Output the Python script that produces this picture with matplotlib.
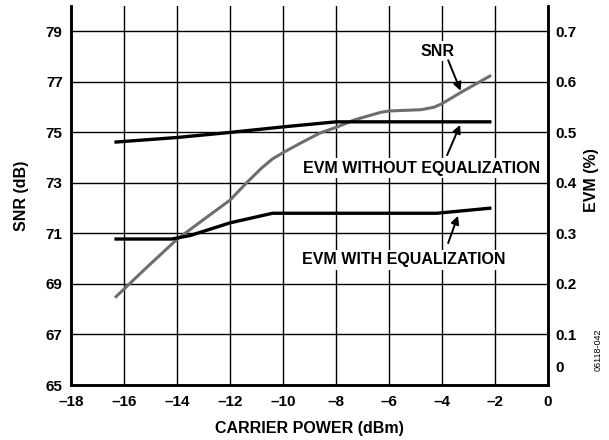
import matplotlib.pyplot as plt
import numpy as np

plt.rcParams['font.family'] = ['Liberation Sans', 'DejaVu Sans']

# -----------------------------
# Data
# -----------------------------
snr_x = [-16.3, -15.2, -14.0, -13.0, -12.0, -11.4, -10.8, -10.4, -10.0, -9.3,
         -8.6, -8.0, -7.3, -6.3, -6.0, -4.8, -4.3, -4.0, -3.3, -2.2]
snr_db = [68.5, 69.6, 70.77, 71.55, 72.32, 72.98, 73.6, 73.95, 74.2, 74.6,
          74.98, 75.2, 75.5, 75.8, 75.85, 75.9, 76.0, 76.14, 76.58, 77.23]

evm_noeq_x = [-16.3, -14.0, -12.0, -10.0, -8.0, -2.2]
evm_noeq = [0.481, 0.490, 0.500, 0.511, 0.521, 0.521]

evm_eq_x = [-16.3, -14.2, -13.5, -12.0, -10.4, -4.2, -2.2]
evm_eq = [0.289, 0.289, 0.296, 0.321, 0.340, 0.340, 0.350]

x_ticks = np.arange(-18, 1, 2)
snr_ticks = np.arange(65, 80, 2)
evm_ticks = np.arange(0, 0.71, 0.1)

gray = '#6e6e6e'
tick_fs = 11
label_fs = 11.5

fig = plt.figure(figsize=(6.09, 4.40), dpi=100)
ax = fig.add_axes([0.1166, 0.125, 0.7834, 0.861])
ax2 = ax.twinx()

# -----------------------------
# Left axis (SNR)
# -----------------------------
ax.set_xlim(-18, 0)
ax.set_ylim(65, 80)
ax.set_xticks(x_ticks)
ax.set_xticklabels([f'\u2013{-v}' if v < 0 else '0' for v in x_ticks])
ax.set_yticks(snr_ticks)
ax.grid(True, color='black', linewidth=1.0)
ax.tick_params(length=0, labelsize=tick_fs)
ax.tick_params(axis='x', pad=7)
ax.tick_params(axis='y', pad=6)
for lab in ax.get_xticklabels() + ax.get_yticklabels():
    lab.set_fontweight('bold')
ax.plot(snr_x, snr_db, color=gray, linewidth=2.2, zorder=3)

ax.set_xlabel('CARRIER POWER (dBm)', fontsize=label_fs, fontweight='bold', labelpad=9)
ax.set_ylabel('SNR (dB)', fontsize=label_fs, fontweight='bold', labelpad=12)

# -----------------------------
# Right axis (EVM)
# -----------------------------
ax2.set_ylim(0, 0.75)
ax2.set_yticks(evm_ticks)
ax2.set_yticklabels([''] + [f'{v:.1f}' for v in evm_ticks[1:]])
ax2.tick_params(length=0, labelsize=tick_fs, pad=5)
for lab in ax2.get_yticklabels():
    lab.set_fontweight('bold')
ax2.annotate('0', xy=(1, 0), xycoords='axes fraction', xytext=(5, 12),
             textcoords='offset points', fontsize=tick_fs, fontweight='bold',
             ha='left', va='center')
fig.text(0.972, 0.59, 'EVM (%)', fontsize=label_fs, fontweight='bold',
         rotation=90, ha='center', va='center')
ax2.plot(evm_noeq_x, evm_noeq, color='black', linewidth=2.4)
ax2.plot(evm_eq_x, evm_eq, color='black', linewidth=2.4)

for a in (ax, ax2):
    a.spines['top'].set_visible(False)
    for s in ('left', 'right', 'bottom'):
        a.spines[s].set_linewidth(1.8)

# -----------------------------
# Labels and arrows
# -----------------------------
box = dict(facecolor='white', edgecolor='none', pad=2)
arrow = dict(arrowstyle='-|>', color='black', lw=1.4, mutation_scale=12,
             shrinkA=0, shrinkB=0)

ax2.text(-4.19, (78.22 - 65) / 20, 'SNR', fontsize=label_fs, fontweight='bold',
         ha='center', va='center', bbox=box)
ax2.annotate('', xy=(-3.3, (76.65 - 65) / 20), xytext=(-3.77, (77.86 - 65) / 20),
             arrowprops=arrow)

ax2.text(-4.79, (73.59 - 65) / 20, 'EVM WITHOUT EQUALIZATION', fontsize=label_fs,
         fontweight='bold', ha='center', va='center', bbox=box)
ax2.annotate('', xy=(-3.32, 0.515), xytext=(-3.81, (74.1 - 65) / 20),
             arrowprops=arrow)

ax2.text(-5.43, (69.95 - 65) / 20, 'EVM WITH EQUALIZATION', fontsize=label_fs,
         fontweight='bold', ha='center', va='center', bbox=box)
ax2.annotate('', xy=(-3.4, 0.335), xytext=(-3.77, (70.62 - 65) / 20),
             arrowprops=arrow)

fig.text(0.982, 0.205, '06118-042', fontsize=6.5, rotation=90,
         ha='center', va='center')

plt.savefig('out.png', dpi=100)
